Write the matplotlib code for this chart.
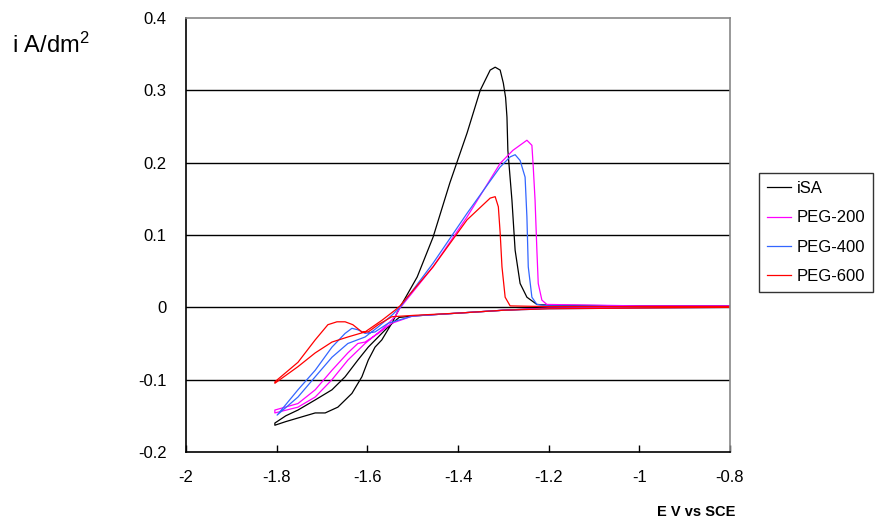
import matplotlib.pyplot as plt

plt.rcParams['font.family'] = ['Liberation Sans', 'DejaVu Sans']
plt.rcParams['mathtext.fontset'] = 'custom'
plt.rcParams['mathtext.rm'] = 'Liberation Sans'
plt.rcParams['mathtext.it'] = 'Liberation Sans'

# iSA - cathodic sweep then return sweep (E in V vs SCE, i in A/dm2)
isa_fwd_E = [-0.8, -1.0, -1.2, -1.3, -1.4, -1.5, -1.53, -1.554, -1.576, -1.598, -1.621, -1.649, -1.678, -1.715, -1.753, -1.78, -1.804]
isa_fwd_i = [0.001, 0.0, -0.001, -0.004, -0.008, -0.012, -0.014, -0.027, -0.041, -0.055, -0.073, -0.096, -0.114, -0.128, -0.142, -0.150, -0.160]
isa_rev_E = [-1.804, -1.78, -1.753, -1.715, -1.693, -1.665, -1.634, -1.612, -1.598, -1.583, -1.568, -1.546, -1.528, -1.49, -1.455,
             -1.418, -1.38, -1.351, -1.329, -1.318, -1.307, -1.30, -1.295, -1.292, -1.290, -1.281, -1.274, -1.263, -1.248, -1.226,
             -1.2, -1.0, -0.8]
isa_rev_i = [-0.163, -0.158, -0.153, -0.146, -0.146, -0.138, -0.119, -0.096, -0.073, -0.055, -0.045, -0.022, 0.0, 0.042, 0.097,
             0.172, 0.241, 0.300, 0.328, 0.332, 0.328, 0.310, 0.290, 0.263, 0.217, 0.148, 0.079, 0.033, 0.014, 0.004,
             0.003, 0.002, 0.002]

# PEG-200
p200_fwd_E = [-0.8, -1.0, -1.2, -1.3, -1.4, -1.5, -1.546, -1.576, -1.605, -1.621, -1.643, -1.678, -1.715, -1.753, -1.804]
p200_fwd_i = [0.001, 0.0, -0.001, -0.004, -0.008, -0.012, -0.022, -0.036, -0.048, -0.050, -0.063, -0.087, -0.114, -0.133, -0.142]
p200_rev_E = [-1.804, -1.753, -1.715, -1.678, -1.643, -1.605, -1.568, -1.539, -1.528, -1.455, -1.38, -1.307, -1.279, -1.248,
              -1.237, -1.234, -1.23, -1.226, -1.223, -1.215, -1.204, -1.1, -1.0, -0.8]
p200_rev_i = [-0.146, -0.138, -0.124, -0.100, -0.073, -0.050, -0.031, -0.013, -0.001, 0.056, 0.125, 0.199, 0.217, 0.231,
              0.224, 0.194, 0.148, 0.079, 0.033, 0.010, 0.004, 0.003, 0.002, 0.002]

# PEG-400
p400_fwd_E = [-0.8, -1.0, -1.2, -1.3, -1.4, -1.5, -1.554, -1.583, -1.605, -1.621, -1.634, -1.649, -1.678, -1.715, -1.753, -1.799]
p400_fwd_i = [0.0, -0.001, -0.002, -0.004, -0.008, -0.012, -0.022, -0.034, -0.036, -0.031, -0.029, -0.036, -0.055, -0.087, -0.114, -0.149]
p400_rev_E = [-1.799, -1.753, -1.715, -1.678, -1.643, -1.605, -1.576, -1.546, -1.528, -1.455, -1.38, -1.307, -1.285, -1.274,
              -1.263, -1.252, -1.248, -1.245, -1.237, -1.226, -1.2, -1.0, -0.8]
p400_rev_i = [-0.149, -0.124, -0.096, -0.069, -0.050, -0.041, -0.027, -0.011, 0.0, 0.061, 0.130, 0.194, 0.208, 0.211,
              0.203, 0.180, 0.125, 0.056, 0.014, 0.004, 0.002, 0.001, 0.001]

# PEG-600
p600_fwd_E = [-0.8, -1.0, -1.2, -1.3, -1.4, -1.495, -1.546, -1.576, -1.598, -1.612, -1.632, -1.649, -1.667, -1.687, -1.715, -1.753, -1.804]
p600_fwd_i = [0.0, -0.001, -0.002, -0.004, -0.008, -0.011, -0.013, -0.024, -0.034, -0.034, -0.024, -0.020, -0.020, -0.024, -0.045, -0.076, -0.103]
p600_rev_E = [-1.804, -1.753, -1.715, -1.678, -1.643, -1.605, -1.568, -1.539, -1.528, -1.455, -1.38, -1.329, -1.318, -1.311,
              -1.307, -1.303, -1.296, -1.285, -1.2, -1.0, -0.8]
p600_rev_i = [-0.105, -0.082, -0.063, -0.048, -0.041, -0.034, -0.018, -0.004, 0.002, 0.056, 0.121, 0.151, 0.153, 0.139,
              0.103, 0.056, 0.014, 0.002, 0.001, 0.001, 0.001]

labels = ['iSA', 'PEG-200', 'PEG-400', 'PEG-600']
colors = ['#000000', '#ff00ff', '#3366ff', '#ff0000']
x_ticks = [-2, -1.8, -1.6, -1.4, -1.2, -1, -0.8]
y_ticks = [-0.2, -0.1, 0, 0.1, 0.2, 0.3, 0.4]

fig = plt.figure(figsize=(8.78, 5.23), dpi=100)
ax = fig.add_axes([186 / 878, 1 - 452 / 523, 544 / 878, 434 / 523])

series = [
    (isa_fwd_E + isa_rev_E, isa_fwd_i + isa_rev_i),
    (p200_fwd_E + p200_rev_E, p200_fwd_i + p200_rev_i),
    (p400_fwd_E + p400_rev_E, p400_fwd_i + p400_rev_i),
    (p600_fwd_E + p600_rev_E, p600_fwd_i + p600_rev_i),
]

# gridlines (black, like the excel chart)
for yv in y_ticks[1:-1]:
    ax.axhline(yv, color='black', lw=1.0, zorder=1)

for (E, i), lab, c in zip(series, labels, colors):
    ax.plot(E, i, color=c, lw=0.9, label=lab, zorder=2)

ax.set_xlim(-2, -0.8)
ax.set_ylim(-0.2, 0.4)
ax.set_xticks(x_ticks)
ax.set_xticklabels(['-2', '-1.8', '-1.6', '-1.4', '-1.2', '-1', '-0.8'])
ax.set_yticks(y_ticks)
ax.set_yticklabels(['-0.2', '-0.1', '0', '0.1', '0.2', '0.3', '0.4'])
ax.tick_params(axis='x', direction='in', length=5, width=1, pad=13, labelsize=12)
ax.tick_params(axis='y', length=0, pad=14, labelsize=12)

for s in ['top', 'right']:
    ax.spines[s].set_color('#888888')
    ax.spines[s].set_linewidth(1.2)
for s in ['left', 'bottom']:
    ax.spines[s].set_color('black')
    ax.spines[s].set_linewidth(1.2)

fig.text(12 / 878, 1 - 45 / 523, 'i A/dm$^2$', fontsize=17, va='center', ha='left')
fig.text(735 / 878, 1 - 512 / 523, 'E V vs SCE', fontsize=10.5, fontweight='bold', va='center', ha='right')

leg = ax.legend(loc='upper left', bbox_to_anchor=(759 / 878, 1 - 173 / 523), bbox_transform=fig.transFigure,
                borderaxespad=0, fancybox=False, shadow=False, fontsize=12, handlelength=1.45,
                handletextpad=0.3, labelspacing=0.85, borderpad=0.5)
leg.get_frame().set_edgecolor('black')
leg.get_frame().set_linewidth(1.0)

fig.savefig('out.png', dpi=100)
